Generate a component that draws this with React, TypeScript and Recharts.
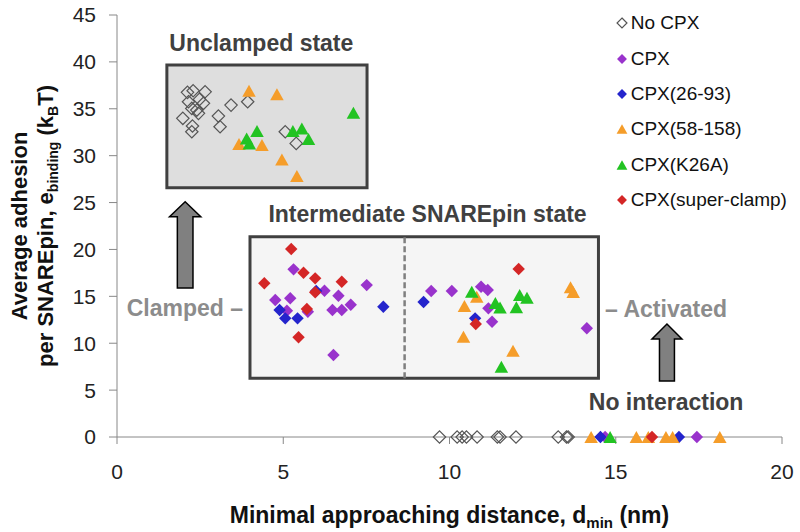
import React from 'react'
import {
  ScatterChart,
  Scatter,
  XAxis,
  YAxis,
  ReferenceArea,
  ReferenceLine,
  ReferenceDot,
  Legend,
} from 'recharts'

type Pt = [number, number]

const FONT = '"Liberation Sans", Arial, sans-serif'

const xTicks = [0, 5, 10, 15, 20]
const yTicks = [0, 5, 10, 15, 20, 25, 30, 35, 40, 45]

// [d_min (nm), e_binding (kBT)]
const noCpx: Pt[] = [
  [2.12, 36.75], [2.29, 36.92], [2.65, 36.81], [2.15, 35.75], [2.48, 36.0], [2.6, 35.58],
  [2.25, 35.04], [2.4, 34.86], [2.45, 34.51], [1.98, 33.98], [2.27, 33.16], [2.25, 32.55],
  [3.05, 34.22], [3.1, 33.08], [3.43, 35.39], [3.93, 35.75], [5.06, 32.55], [5.39, 31.31],
  [9.7, 0], [10.23, 0], [10.38, 0], [10.51, 0], [10.83, 0], [11.44, 0], [11.52, 0],
  [12.0, 0], [13.27, 0], [13.52, 0], [13.57, 0],
]

const cpx: Pt[] = [
  [5.31, 17.88], [6.24, 15.6], [7.51, 16.2], [4.76, 14.61], [5.21, 14.79], [6.66, 15.06],
  [7.03, 14.1], [6.48, 13.54], [6.76, 13.54], [5.11, 13.46], [5.74, 13.36], [6.51, 8.74],
  [9.45, 15.57], [10.07, 15.57], [10.95, 16.02], [11.15, 15.67], [11.17, 13.72], [11.28, 12.29],
  [14.13, 11.59], [14.68, 0], [17.44, 0],
]

const cpx2693: Pt[] = [
  [4.89, 13.54], [5.06, 12.65], [5.43, 12.65], [5.99, 15.57], [8.01, 13.89], [9.22, 14.39],
  [10.77, 12.65], [14.54, 0], [16.9, 0],
]

const cpx58158: Pt[] = [
  [3.97, 36.92], [4.81, 36.54], [3.67, 31.24], [4.36, 31.13], [4.96, 29.6], [5.41, 27.83],
  [10.82, 14.96], [10.45, 13.97], [10.42, 10.69], [11.91, 9.2], [13.64, 15.96], [13.72, 15.46],
  [14.26, 0], [15.62, 0], [15.98, 0], [16.51, 0], [16.71, 0], [18.13, 0],
]

const cpxK26A: Pt[] = [
  [3.9, 31.84], [4.21, 32.62], [3.98, 31.31], [5.29, 32.62], [5.56, 32.91], [5.76, 31.77],
  [7.11, 34.57], [10.67, 15.49], [11.38, 14.3], [11.52, 13.8], [11.56, 7.49], [12.11, 15.14],
  [12.33, 14.85], [12.01, 13.83], [14.83, 0],
]

const cpxSuperClamp: Pt[] = [
  [5.24, 20.04], [5.61, 17.52], [4.43, 16.39], [5.96, 16.92], [6.76, 16.56], [5.96, 15.43],
  [5.71, 13.65], [5.46, 10.63], [10.79, 12.05], [12.08, 17.91], [16.09, 0],
]

const seriesNames = ['No CPX', 'CPX', 'CPX(26-93)', 'CPX(58-158)', 'CPX(K26A)', 'CPX(super-clamp)']
const seriesData = [noCpx, cpx, cpx2693, cpx58158, cpxK26A, cpxSuperClamp]
const seriesColors = ['#555555', '#9933cc', '#2424cc', '#f59d2a', '#22c322', '#d42626']
const seriesKinds = ['open', 'diamond', 'diamond', 'triangle', 'triangle', 'diamond']

// annotation geometry, in data units
const unclampedBox = { x1: 1.5, x2: 7.52, y1: 26.58, y2: 39.66 }
const intermediateBox = { x1: 4.0, x2: 14.48, y1: 6.26, y2: 21.35 }
const splitX = 8.65
const arrows = [
  { x1: 1.58, x2: 2.52, y1: 15.88, y2: 25.09 },
  { x1: 16.09, x2: 16.99, y1: 5.97, y2: 12.05 },
]
const notes = [
  { text: 'Unclamped state', x: 4.34, y: 41.15, anchor: 'middle', color: '#404040' },
  { text: 'Intermediate SNAREpin state', x: 9.34, y: 22.95, anchor: 'middle', color: '#404040' },
  { text: 'Clamped \u2013', x: 3.79, y: 12.9, anchor: 'end', color: '#8c8c8c' },
  { text: '\u2013 Activated', x: 14.68, y: 12.79, anchor: 'start', color: '#8c8c8c' },
  { text: 'No interaction', x: 18.84, y: 2.88, anchor: 'end', color: '#404040' },
]

function Marker({ cx, cy, kind, color, s = 1 }: any) {
  if (cx == null || cy == null) return null
  if (kind === 'triangle') {
    const w = 13.5 * s
    const h = 12 * s
    return (
      <polygon
        points={`${cx},${cy - h / 2} ${cx + w / 2},${cy + h / 2} ${cx - w / 2},${cy + h / 2}`}
        fill={color}
      />
    )
  }
  const r = 6.2 * s
  const pts = `${cx},${cy - r} ${cx + r},${cy} ${cx},${cy + r} ${cx - r},${cy}`
  if (kind === 'open') return <polygon points={pts} fill="none" stroke={color} strokeWidth={1.2} />
  return <polygon points={pts} fill={color} />
}

function ArrowShape(p: any) {
  const { x, y, width, height } = p
  const cx = x + width / 2
  const head = 15
  const half = width * 0.25
  const pts = [
    [cx, y],
    [x + width, y + head],
    [cx + half, y + head],
    [cx + half, y + height],
    [cx - half, y + height],
    [cx - half, y + head],
    [x, y + head],
  ]
  return (
    <polygon
      points={pts.map((q) => q.join(',')).join(' ')}
      fill="#808080"
      stroke="#000"
      strokeWidth={1.5}
      strokeLinejoin="miter"
    />
  )
}

function YTitle(props: any) {
  const vb = props.viewBox
  const cy = vb.y + vb.height / 2
  return (
    <g fontFamily={FONT} fontWeight="bold" fill="#111" fontSize={22}>
      <text x={27} y={cy} textAnchor="middle" transform={`rotate(-90, 27, ${cy})`}>
        Average adhesion
      </text>
      <text x={53} y={cy} textAnchor="middle" transform={`rotate(-90, 53, ${cy})`}>
        per SNAREpin, e
        <tspan fontSize={14} dy={5}>binding</tspan>
        <tspan dy={-5}> (k</tspan>
        <tspan fontSize={14} dy={5}>B</tspan>
        <tspan dy={-5}>T)</tspan>
      </text>
    </g>
  )
}

function XTitle(props: any) {
  const vb = props.viewBox
  const cx = vb.x + vb.width / 2
  return (
    <text x={cx} y={vb.y + 86} textAnchor="middle" fontFamily={FONT} fontWeight="bold" fill="#111" fontSize={23}>
      Minimal approaching distance, d
      <tspan fontSize={15} dy={5}>min</tspan>
      <tspan dy={-5}> (nm)</tspan>
    </text>
  )
}

function LegendBox() {
  return (
    <div style={{ fontFamily: FONT, fontSize: 19, color: '#111' }}>
      {seriesNames.map((name, i) => (
        <div key={name} style={{ height: 35.4, display: 'flex', alignItems: 'center', whiteSpace: 'nowrap' }}>
          <svg width={18} height={16} style={{ flex: 'none' }}>
            <Marker cx={9} cy={8} kind={seriesKinds[i]} color={seriesColors[i]} s={0.8} />
          </svg>
          <span>{name}</span>
        </div>
      ))}
    </div>
  )
}

export default function App() {
  const tickStyle = { fill: '#222', fontSize: 21, fontFamily: FONT }
  return (
    <div style={{ position: 'absolute', left: 0, top: 0, background: '#fff' }}>
      <ScatterChart width={800} height={532} margin={{ top: 15, right: 18, bottom: 0, left: 0 }}>
        <XAxis
          type="number"
          dataKey="x"
          domain={[0, 20]}
          ticks={xTicks}
          height={95}
          tickSize={7}
          tickMargin={20}
          stroke="#888"
          tick={tickStyle}
          label={{ content: XTitle }}
        />
        <YAxis
          type="number"
          dataKey="y"
          domain={[0, 45]}
          ticks={yTicks}
          width={117}
          tickSize={8}
          tickMargin={13}
          stroke="#888"
          tick={tickStyle}
          label={{ content: YTitle }}
        />
        <ReferenceArea {...unclampedBox} fill="#dedede" fillOpacity={1} stroke="#404040" strokeWidth={3} />
        <ReferenceArea {...intermediateBox} fill="#f5f5f5" fillOpacity={1} stroke="#404040" strokeWidth={3} />
        <ReferenceLine
          segment={[
            { x: splitX, y: intermediateBox.y1 },
            { x: splitX, y: intermediateBox.y2 },
          ]}
          stroke="#7f7f7f"
          strokeWidth={2.5}
          strokeDasharray="6 3"
        />
        {arrows.map((a, i) => (
          <ReferenceArea key={`arrow-${i}`} {...a} shape={ArrowShape} />
        ))}
        {notes.map((n) => (
          <ReferenceDot
            key={n.text}
            x={n.x}
            y={n.y}
            r={1}
            shape={(p: any) => (
              <text
                x={p.cx}
                y={p.cy}
                textAnchor={n.anchor as any}
                fill={n.color}
                fontFamily={FONT}
                fontWeight="bold"
                fontSize={23}
              >
                {n.text}
              </text>
            )}
          />
        ))}
        {seriesData.map((pts, i) => (
          <Scatter
            key={seriesNames[i]}
            name={seriesNames[i]}
            data={pts.map(([x, y]) => ({ x, y }))}
            fill={seriesColors[i]}
            isAnimationActive={false}
            shape={(p: any) => <Marker cx={p.cx} cy={p.cy} kind={seriesKinds[i]} color={seriesColors[i]} />}
          />
        ))}
        <Legend
          layout="horizontal"
          align="center"
          verticalAlign="middle"
          wrapperStyle={{ top: 5.6, left: 612.7, width: 188, height: 215 }}
          content={() => <LegendBox />}
        />
      </ScatterChart>
    </div>
  )
}
